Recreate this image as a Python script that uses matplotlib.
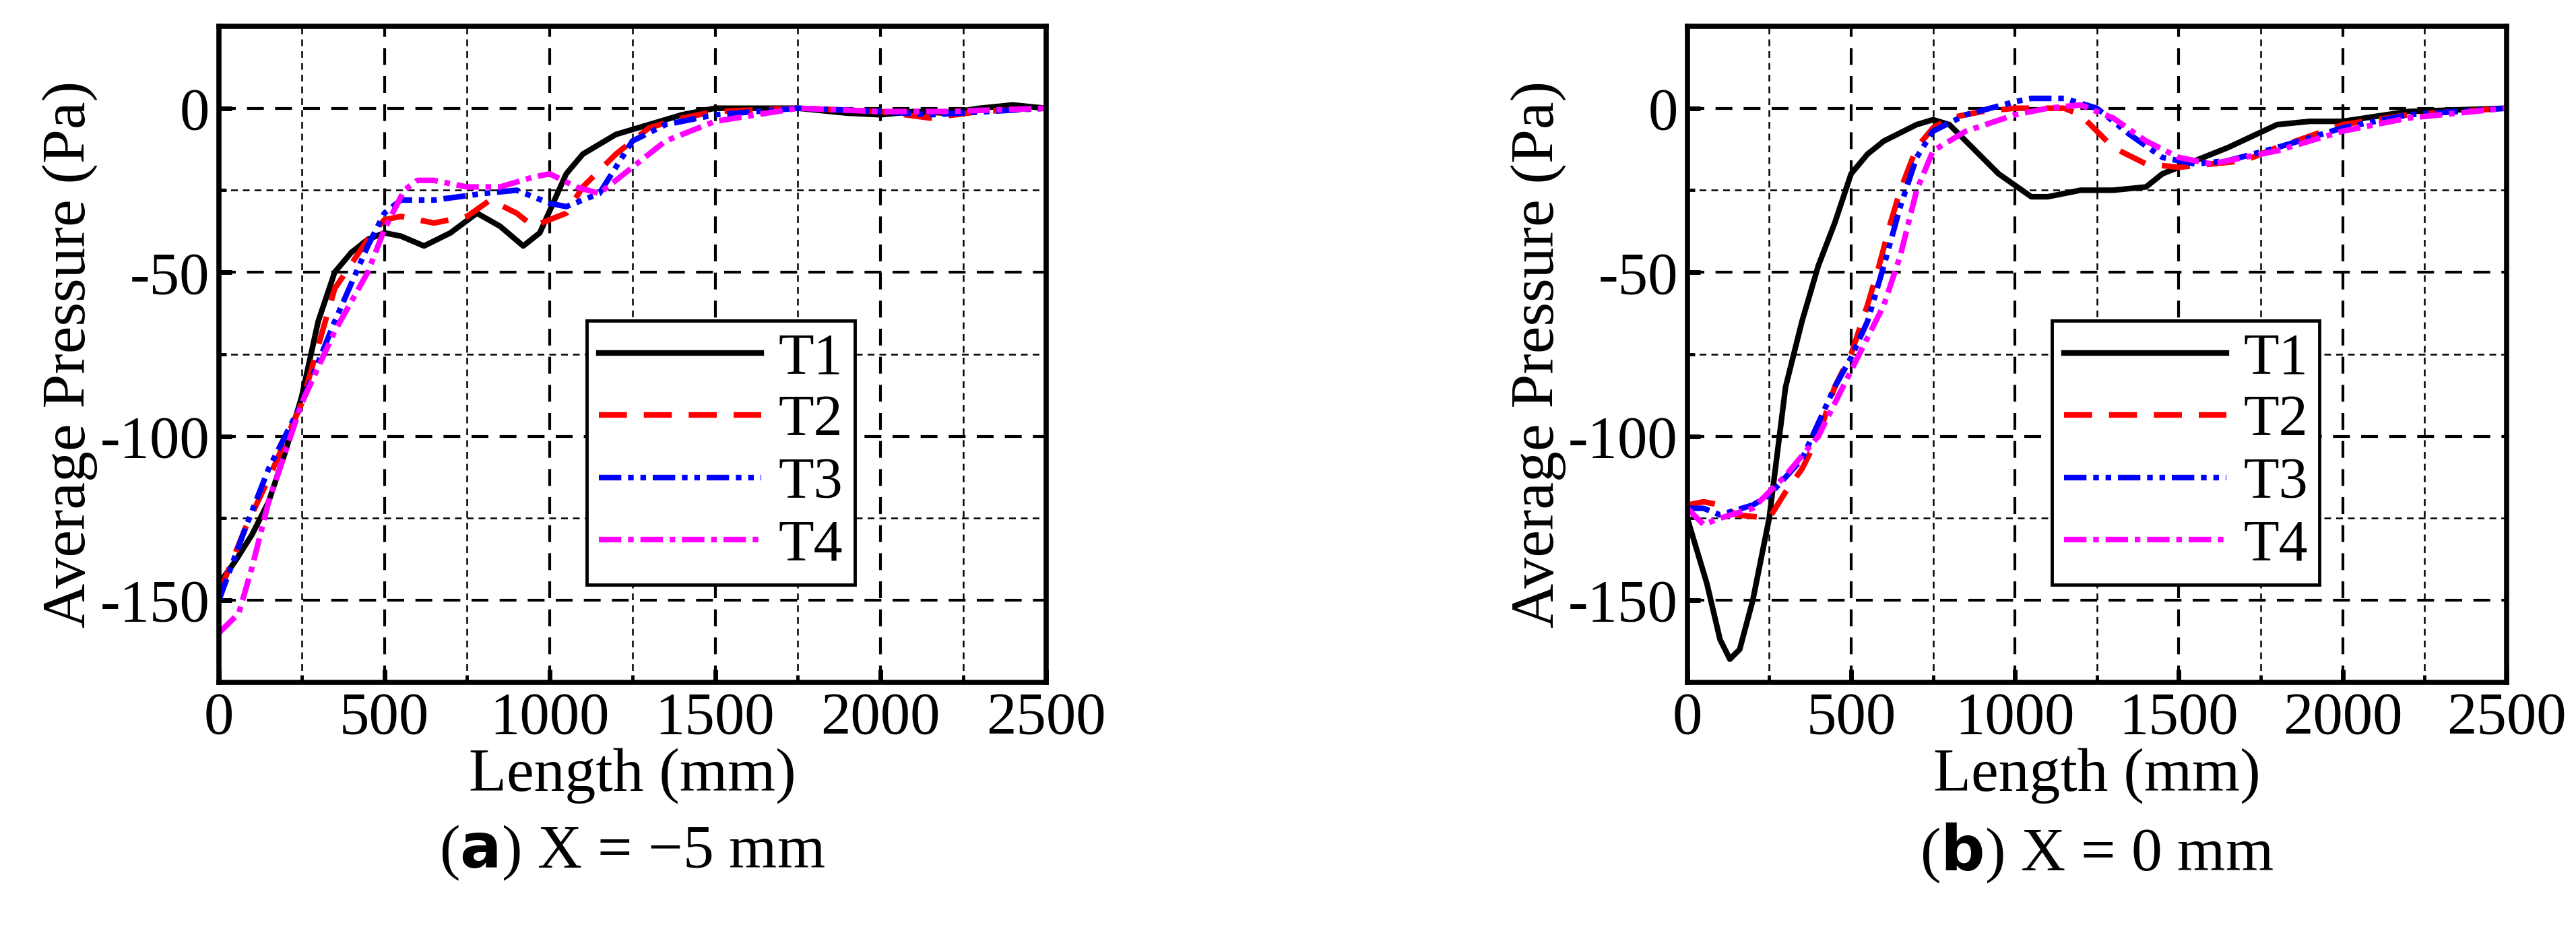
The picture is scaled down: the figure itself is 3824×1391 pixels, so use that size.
import numpy as np
import matplotlib
matplotlib.use('Agg')
import matplotlib.pyplot as plt
from matplotlib.ticker import MultipleLocator

plt.rcParams['font.family'] = ['Liberation Serif', 'DejaVu Serif']
plt.rcParams['axes.unicode_minus'] = False

# ---- panel (a) X = -5 mm ----
a_t1_x = [0, 50, 100, 150, 200, 250, 300, 350, 400, 450, 500, 550, 620, 700, 780, 850, 920, 970, 1050, 1100, 1200, 1300, 1400, 1500, 1750, 1900, 2000, 2100, 2200, 2300, 2400, 2500]
a_t1_y = [-145, -138, -130, -120, -105, -88, -65, -50, -44, -40, -38, -39, -42, -38, -32, -36, -42, -38, -20, -14, -8, -5, -2, 0, 0, -1.5, -2, -1, -1.5, 0, 1, 0]
a_t2_x = [0, 80, 150, 250, 350, 450, 500, 550, 650, 750, 820, 900, 950, 1000, 1050, 1100, 1200, 1300, 1400, 1500, 1750, 2000, 2150, 2300, 2500]
a_t2_y = [-148, -128, -113, -90, -55, -40, -34, -33, -35, -33, -28, -32, -36, -34, -32, -24, -14, -6, -3, -1, 0, -1, -3, -1, 0]
a_t3_x = [0, 80, 150, 250, 350, 450, 500, 550, 650, 800, 900, 1000, 1050, 1100, 1150, 1250, 1350, 1500, 1750, 2000, 2150, 2500]
a_t3_y = [-150, -128, -110, -90, -65, -42, -32, -28, -28, -26, -25, -29, -30, -28, -26, -10, -5, -2, 0, -1, -2, 0]
a_t4_x = [0, 60, 100, 150, 250, 350, 450, 500, 560, 600, 650, 750, 850, 950, 1000, 1080, 1150, 1250, 1350, 1500, 1750, 2000, 2200, 2500]
a_t4_y = [-160, -154, -140, -120, -90, -68, -50, -37, -25, -22, -22, -24, -24, -21, -20, -24, -26, -18, -10, -4, 0, -1, -1, 0]

# ---- panel (b) X = 0 mm ----
b_t1_x = [0, 60, 100, 130, 160, 200, 250, 300, 350, 400, 450, 500, 550, 600, 700, 750, 800, 850, 950, 1050, 1100, 1200, 1300, 1400, 1450, 1550, 1650, 1800, 1900, 2000, 2200, 2500]
b_t1_y = [-125, -145, -162, -168, -165, -150, -125, -85, -65, -48, -35, -20, -14, -10, -5, -3.5, -5, -10, -20, -27, -27, -25, -25, -24, -20, -16, -12, -5, -4, -4, -1, 0]
b_t2_x = [0, 50, 100, 150, 250, 300, 350, 400, 450, 500, 550, 580, 620, 650, 700, 750, 800, 900, 1000, 1100, 1150, 1200, 1300, 1400, 1500, 1600, 1700, 1800, 2000, 2200, 2500]
b_t2_y = [-121, -120, -121, -124, -125, -117, -110, -100, -85, -75, -60, -50, -35, -25, -12, -6, -3, -1, 0, 0, 0, -2, -12, -17, -18, -17, -16, -12, -5, -2, 0]
b_t3_x = [0, 50, 100, 200, 250, 350, 450, 500, 550, 600, 650, 700, 750, 850, 1000, 1050, 1150, 1250, 1350, 1450, 1550, 1650, 1800, 2000, 2200, 2500]
b_t3_y = [-122, -122, -124, -121, -118, -107, -85, -76, -65, -48, -30, -15, -7, -2, 2, 3, 3, 0, -8, -15, -17, -16, -12, -6, -2, 0]
b_t4_x = [0, 50, 100, 200, 300, 400, 500, 600, 650, 700, 750, 850, 1000, 1100, 1200, 1300, 1400, 1500, 1600, 1800, 2000, 2200, 2500]
b_t4_y = [-122, -127, -125, -122, -112, -100, -80, -60, -45, -25, -13, -7, -2, 0, 1, -3, -10, -15, -17, -13, -7, -3, 0]

labels = ['T1', 'T2', 'T3', 'T4']
colors = ['black', 'red', 'blue', 'magenta']
styles = ['-', (0, (5, 3)), (0, (4, 1.2, 1, 1.2, 1, 1.2)), (0, (4, 1.2, 1, 1.2))]
captions = [r'($\mathbf{a}$) X = −5 mm', r'($\mathbf{b}$) X = 0 mm']

panels = [
    [(a_t1_x, a_t1_y), (a_t2_x, a_t2_y), (a_t3_x, a_t3_y), (a_t4_x, a_t4_y)],
    [(b_t1_x, b_t1_y), (b_t2_x, b_t2_y), (b_t3_x, b_t3_y), (b_t4_x, b_t4_y)],
]

fig = plt.figure(figsize=(38.24, 13.91), dpi=100)
rects = [[0.085, 0.272, 0.321, 0.700], [0.655, 0.272, 0.318, 0.700]]
fs = 64

for k, data in enumerate(panels):
    ax = fig.add_axes(rects[k])
    for (xs, ys), lab, c, ls in zip(data, labels, colors, styles):
        ax.plot(xs, ys, color=c, linestyle=ls, lw=6, label=lab)
    ax.set_xlim(0, 2500)
    ax.set_ylim(-175, 25)
    ax.xaxis.set_major_locator(MultipleLocator(500))
    ax.xaxis.set_minor_locator(MultipleLocator(250))
    ax.yaxis.set_minor_locator(MultipleLocator(25))
    ax.set_yticks([0, -50, -100, -150])
    ax.grid(which='major', color='black', linestyle=(0, (6, 4)), lw=3)
    ax.grid(which='minor', color='black', linestyle=(0, (4, 3)), lw=1.8)
    ax.tick_params(which='major', labelsize=fs, direction='in', length=14, width=5, pad=10)
    ax.tick_params(which='minor', direction='in', length=8, width=3.5)
    for s in ax.spines.values():
        s.set_linewidth(5.5)
    ax.set_xlabel('Length (mm)', fontsize=fs + 2, labelpad=2)
    ax.set_ylabel('Average Pressure (Pa)', fontsize=fs + 2, labelpad=2)
    leg = ax.legend(loc='upper left', bbox_to_anchor=(0.41, 0.595), fontsize=fs - 2,
                    frameon=True, fancybox=False, edgecolor='black', framealpha=1,
                    handlelength=2.8, borderpad=0.2, labelspacing=0.15, handletextpad=0.3)
    leg.get_frame().set_linewidth(3.5)
    ax.text(0.5, -0.26, captions[k], transform=ax.transAxes, ha='center', va='center', fontsize=fs + 2)

fig.savefig('out.png', dpi=100)
